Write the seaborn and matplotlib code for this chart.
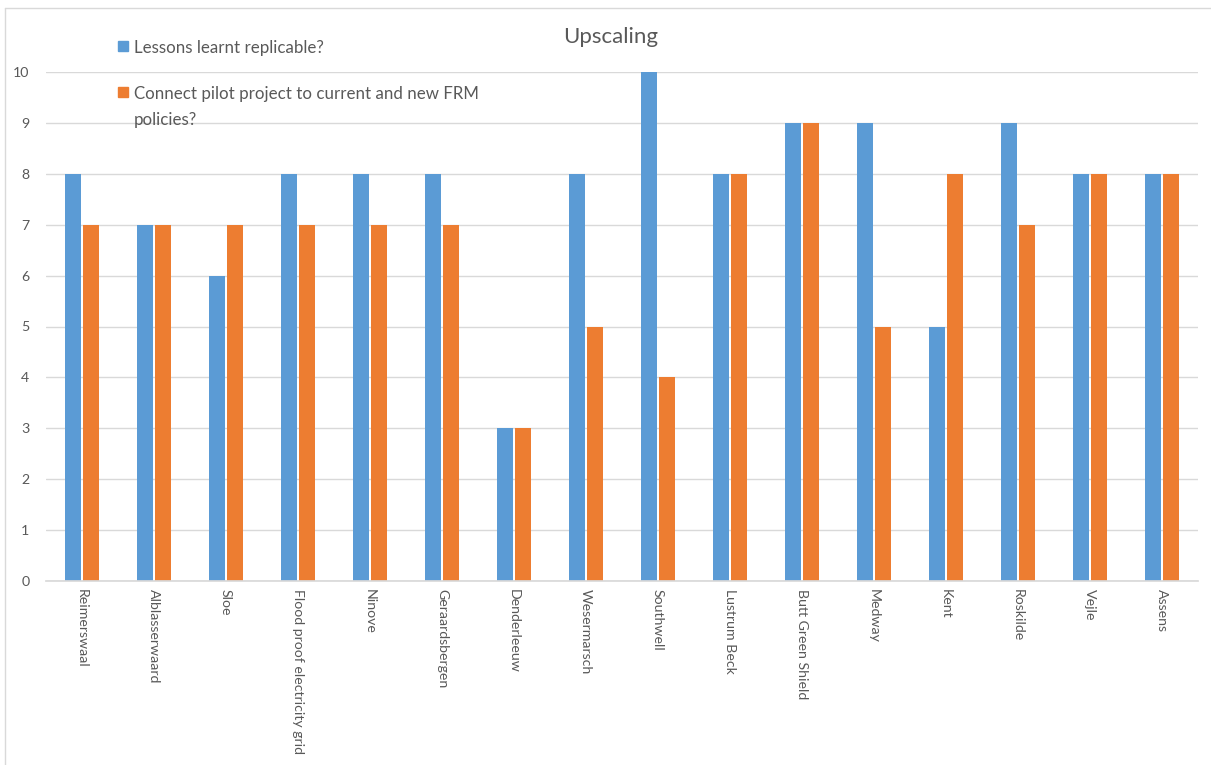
import matplotlib
matplotlib.use("Agg")
import matplotlib.pyplot as plt
import seaborn as sns
import pandas as pd
from matplotlib.lines import Line2D

categories = ["Reimerswaal", "Alblasserwaard", "Sloe", "Flood proof electricity grid",
              "Ninove", "Geraardsbergen", "Denderleeuw", "Wesermarsch", "Southwell",
              "Lustrum Beck", "Butt Green Shield", "Medway", "Kent", "Roskilde",
              "Vejle", "Assens"]
series_names = ["Lessons learnt replicable?",
                "Connect pilot project to current and new FRM\npolicies?"]
lessons = [8, 7, 6, 8, 8, 8, 3, 8, 10, 8, 9, 9, 5, 9, 8, 8]
connect = [7, 7, 7, 7, 7, 7, 3, 5, 4, 8, 9, 5, 8, 7, 8, 8]
colors = ["#5B9BD5", "#ED7D31"]

df = pd.DataFrame({
    "category": categories * 2,
    "value": lessons + connect,
    "series": [series_names[0]] * len(categories) + [series_names[1]] * len(categories),
})

sns.set_theme(style="white")
plt.rcParams['font.family'] = ['Lato', 'DejaVu Sans']
text_color = "#595959"

W, H = 1211, 765
fig = plt.figure(figsize=(W / 100, H / 100), dpi=100)
ax = fig.add_axes([46 / W, 1 - 581 / H, 1152 / W, 509 / H])

sns.barplot(data=df, x="category", y="value", hue="series", order=categories,
            hue_order=series_names, palette=colors, width=0.52, gap=0.14,
            saturation=1, ax=ax, legend=False, edgecolor="none")

ax.set_ylim(0, 10)
ax.set_xlim(-0.5, len(categories) - 0.5)
ax.set_yticks(range(0, 11))
ax.yaxis.grid(True, color="#D9D9D9", linewidth=1)
ax.set_axisbelow(True)
for s in ["top", "right", "left"]:
    ax.spines[s].set_visible(False)
ax.spines["bottom"].set_color("#D9D9D9")
ax.set_xlabel("")
ax.set_ylabel("")
ax.tick_params(axis="both", length=0, colors=text_color, labelsize=10.2)
ax.tick_params(axis="y", pad=12)
ax.set_xticks(range(len(categories)))
ax.set_xticklabels(categories, rotation=-90, ha="center", va="top")
ax.tick_params(axis="x", pad=6)

fig.text(611 / W, 1 - 37 / H, "Upscaling", ha="center", va="center",
         fontsize=16, color=text_color)

# legend (marker aligned with first text line, as in the reference)
legend_y = [46, 92]
for name, c, y in zip(series_names, colors, legend_y):
    fig.add_artist(Line2D([123 / W], [1 - y / H], marker="s", linestyle="none",
                          markersize=6.5, markerfacecolor=c, markeredgecolor=c,
                          transform=fig.transFigure))
    fig.text(134 / W, 1 - (y - 6) / H, name, ha="left", va="top",
             fontsize=12.2, color=text_color, linespacing=1.75)

# chart area border (left and top)
fig.add_artist(Line2D([5 / W, 5 / W], [0, 1 - 8 / H], color="#D9D9D9",
                      linewidth=1, transform=fig.transFigure))
fig.add_artist(Line2D([5 / W, 1], [1 - 8 / H, 1 - 8 / H], color="#D9D9D9",
                      linewidth=1, transform=fig.transFigure))

fig.savefig("out.png", dpi=100)
